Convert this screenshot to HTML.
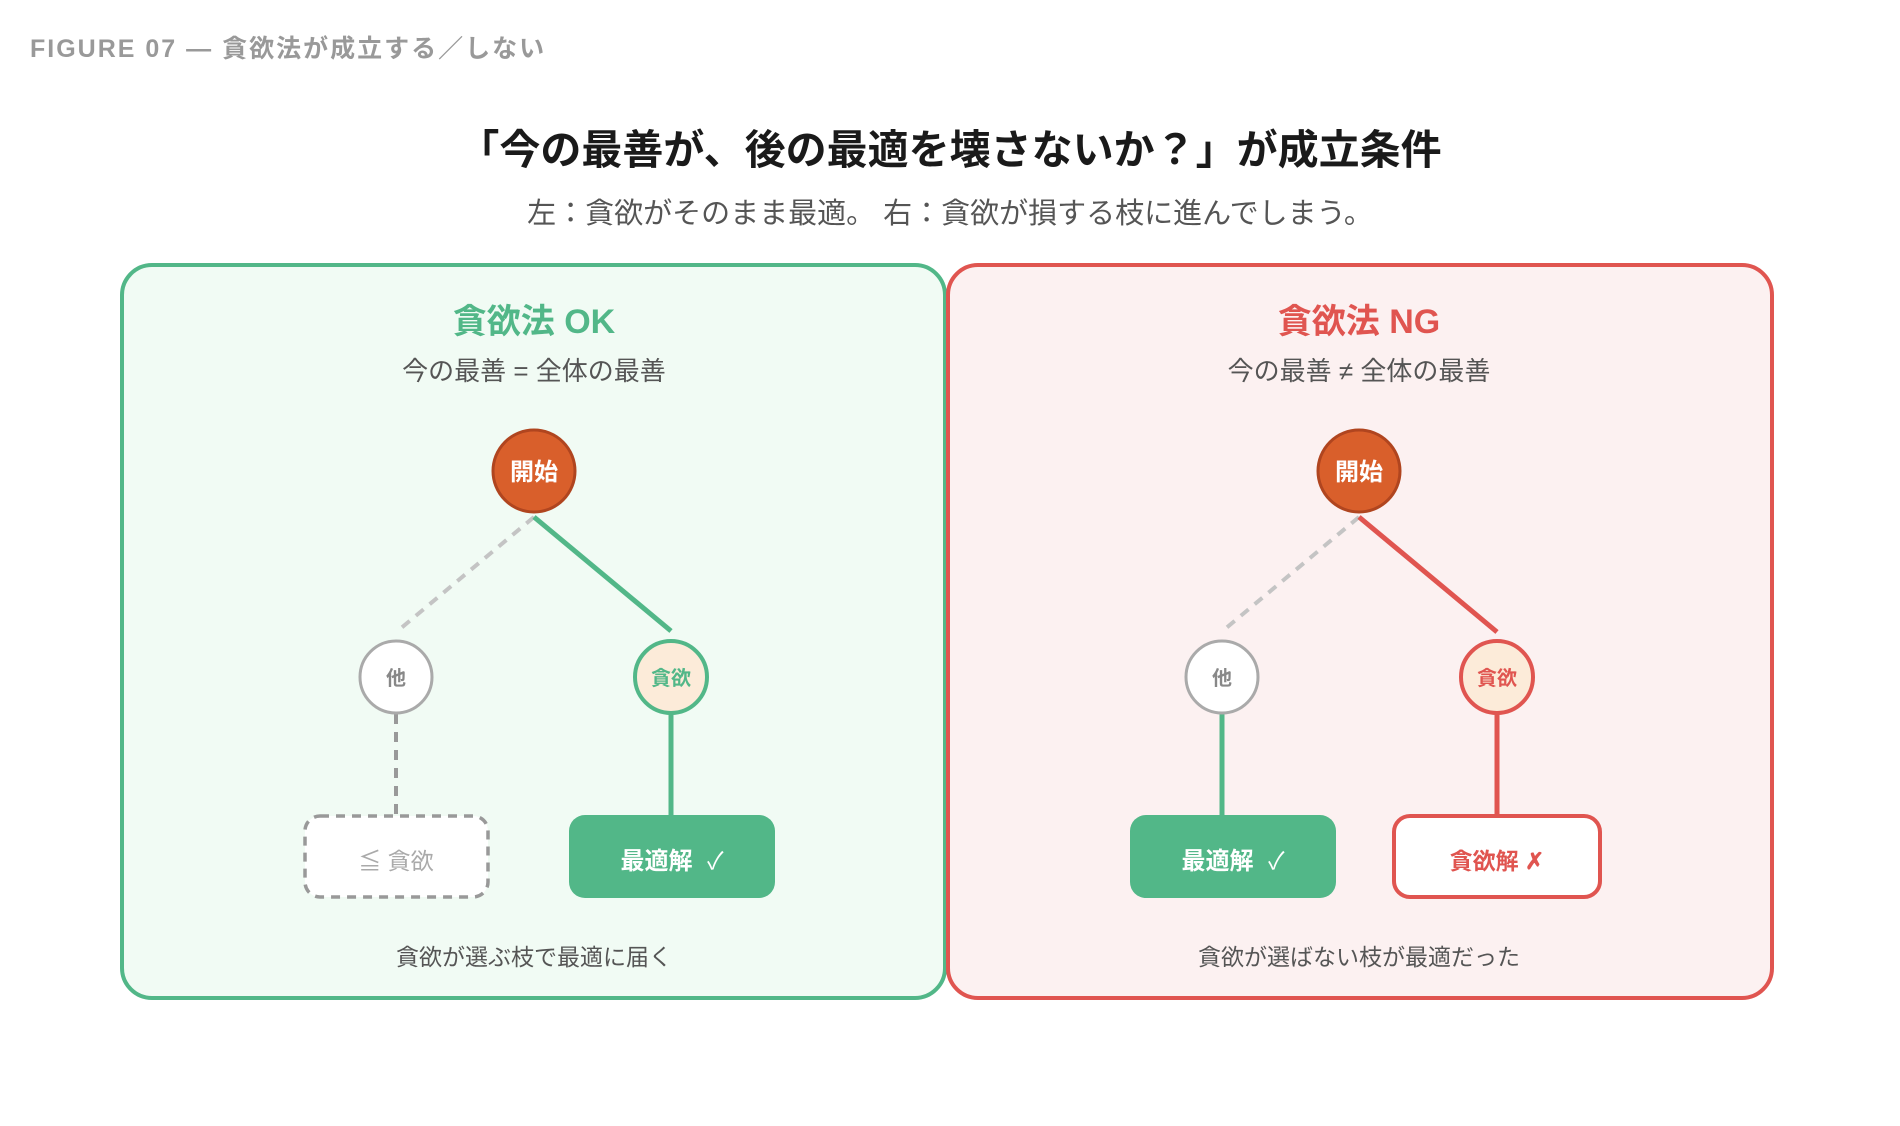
<!DOCTYPE html>
<html><head><meta charset="utf-8"><style>
html,body{margin:0;padding:0;background:#fff;width:1900px;height:1126px;overflow:hidden}
svg{display:block}
text{font-family:"Liberation Sans","Noto Sans CJK JP",sans-serif}
</style></head><body>
<svg width="1900" height="1126" viewBox="0 0 1900 1126" xmlns="http://www.w3.org/2000/svg">
<text x="30" y="57" font-size="25" fill="#999" font-weight="600" letter-spacing="2">FIGURE 07 — 貪欲法が成立する／しない</text>
<text x="950" y="164" font-size="41" font-weight="700" fill="#1a1a1a" text-anchor="middle">「今の最善が、後の最適を壊さないか？」が成立条件</text>
<text x="950" y="223" font-size="29" fill="#555" text-anchor="middle">左：貪欲がそのまま最適。 右：貪欲が損する枝に進んでしまう。</text>

<!-- Left panel -->
<rect x="122" y="265" width="823" height="733" rx="30" fill="#f1fbf4" stroke="#52b788" stroke-width="4"/>
<text x="534" y="333" font-size="34" font-weight="700" fill="#52b788" text-anchor="middle">貪欲法 OK</text>
<text x="534" y="380" font-size="26" fill="#555" text-anchor="middle">今の最善 = 全体の最善</text>
<line x1="534" y1="517" x2="400" y2="629" stroke="#c4c4c4" stroke-width="4" stroke-dasharray="10 8"/>
<line x1="534" y1="517" x2="671" y2="631" stroke="#52b788" stroke-width="5"/>
<line x1="396" y1="714" x2="396" y2="815" stroke="#999" stroke-width="4" stroke-dasharray="10 8"/>
<line x1="671" y1="714" x2="671" y2="815" stroke="#52b788" stroke-width="5"/>
<circle cx="534" cy="471" r="41" fill="#d95f2b" stroke="#b0451f" stroke-width="3"/>
<text x="534" y="480" font-size="24" font-weight="700" fill="#fff" text-anchor="middle">開始</text>
<circle cx="396" cy="677" r="36" fill="#fff" stroke="#aaa" stroke-width="3"/>
<text x="396" y="685" font-size="20" font-weight="700" fill="#888" text-anchor="middle">他</text>
<circle cx="671" cy="677" r="36" fill="#fcebd9" stroke="#52b788" stroke-width="4"/>
<text x="671" y="685" font-size="20" font-weight="700" fill="#52b788" text-anchor="middle">貪欲</text>
<rect x="305" y="816" width="183" height="81" rx="15" fill="#fff" stroke="#999" stroke-width="3.5" stroke-dasharray="9 7"/>
<text x="396" y="869" font-size="23" fill="#aaa" text-anchor="middle">≦ 貪欲</text>
<rect x="569" y="815" width="206" height="83" rx="16" fill="#52b788"/>
<text x="672" y="869" font-size="24" font-weight="700" fill="#fff" text-anchor="middle">最適解 <tspan font-weight="400" dx="8">✓</tspan></text>
<text x="534" y="965" font-size="23" fill="#555" text-anchor="middle">貪欲が選ぶ枝で最適に届く</text>

<!-- Right panel -->
<rect x="948" y="265" width="824" height="733" rx="30" fill="#fcf1f1" stroke="#e05550" stroke-width="4"/>
<text x="1359" y="333" font-size="34" font-weight="700" fill="#e05550" text-anchor="middle">貪欲法 NG</text>
<text x="1359" y="380" font-size="26" fill="#555" text-anchor="middle">今の最善 ≠ 全体の最善</text>
<line x1="1359" y1="517" x2="1225" y2="629" stroke="#c4c4c4" stroke-width="4" stroke-dasharray="10 8"/>
<line x1="1359" y1="517" x2="1497" y2="632" stroke="#e05550" stroke-width="5"/>
<line x1="1222" y1="714" x2="1222" y2="815" stroke="#52b788" stroke-width="5"/>
<line x1="1497" y1="714" x2="1497" y2="815" stroke="#e05550" stroke-width="5"/>
<circle cx="1359" cy="471" r="41" fill="#d95f2b" stroke="#b0451f" stroke-width="3"/>
<text x="1359" y="480" font-size="24" font-weight="700" fill="#fff" text-anchor="middle">開始</text>
<circle cx="1222" cy="677" r="36" fill="#fff" stroke="#aaa" stroke-width="3"/>
<text x="1222" y="685" font-size="20" font-weight="700" fill="#888" text-anchor="middle">他</text>
<circle cx="1497" cy="677" r="36" fill="#fcebd9" stroke="#e05550" stroke-width="4"/>
<text x="1497" y="685" font-size="20" font-weight="700" fill="#e05550" text-anchor="middle">貪欲</text>
<rect x="1130" y="815" width="206" height="83" rx="16" fill="#52b788"/>
<text x="1233" y="869" font-size="24" font-weight="700" fill="#fff" text-anchor="middle">最適解 <tspan font-weight="400" dx="8">✓</tspan></text>
<rect x="1394" y="816" width="206" height="81" rx="16" fill="#fff" stroke="#e05550" stroke-width="4"/>
<text x="1497" y="869" font-size="23" font-weight="700" fill="#e05550" text-anchor="middle">貪欲解 ✗</text>
<text x="1359" y="965" font-size="23" fill="#555" text-anchor="middle">貪欲が選ばない枝が最適だった</text>
</svg>
</body></html>
